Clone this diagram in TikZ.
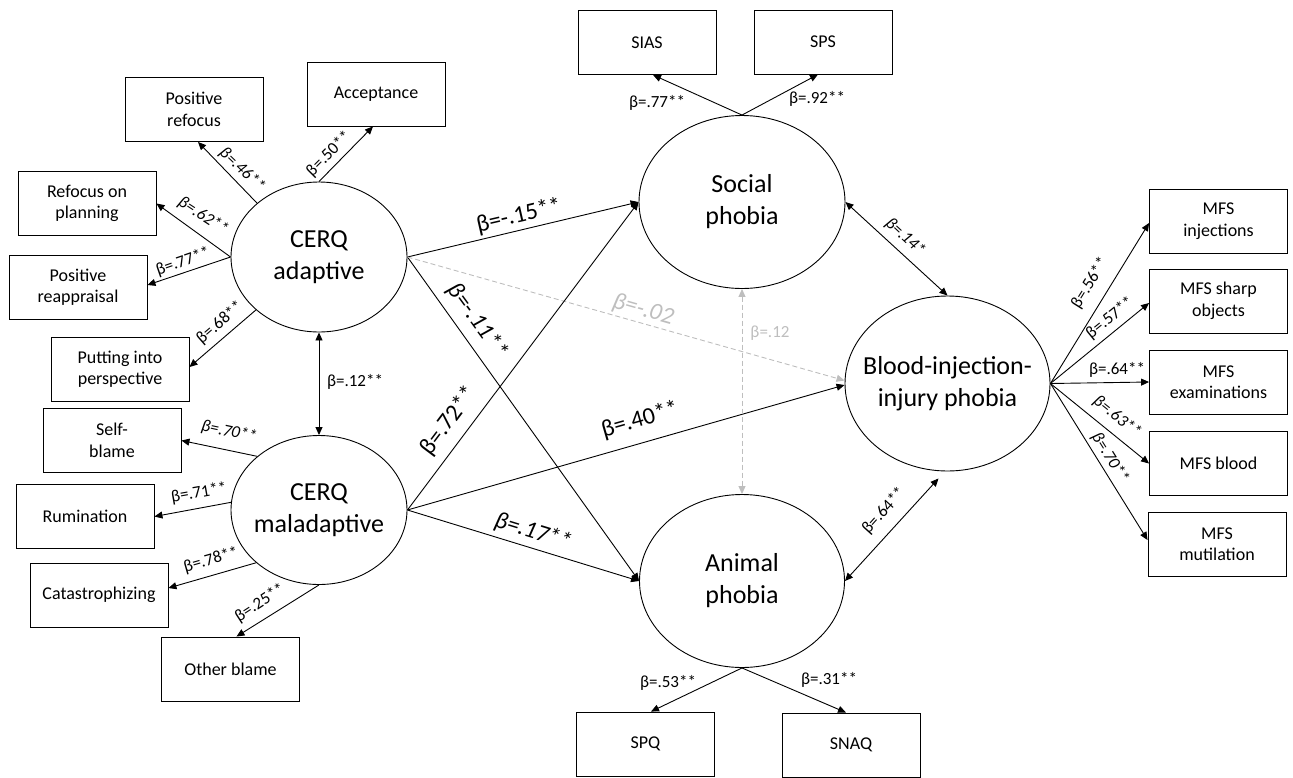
\documentclass[tikz,border=0pt]{standalone}
\usepackage{fontspec}
\setmainfont{Carlito}
\usetikzlibrary{shapes.geometric,arrows.meta}
\definecolor{lgray}{RGB}{190,190,190}
\begin{document}
\begin{tikzpicture}[x=1pt,y=-1pt,
  box/.style={draw,line width=0.9pt,minimum width=138pt,minimum height=64pt,inner sep=0pt,align=center,font=\fontsize{18}{21.5}\selectfont},
  lat/.style={draw,ellipse,line width=0.9pt,inner sep=0pt},
  lattext/.style={inner sep=0pt,align=center,font=\fontsize{26}{32}\selectfont},
  arr/.style={line width=0.9pt,-{Triangle[length=8pt,width=7pt]}},
  darr/.style={line width=0.9pt,{Triangle[length=8pt,width=7pt]}-{Triangle[length=8pt,width=7pt]}},
  garr/.style={line width=0.9pt,lgray,dash pattern=on 5pt off 3pt,-{Triangle[length=8pt,width=7pt]}},
  gdarr/.style={line width=0.9pt,lgray,dash pattern=on 5pt off 3pt,{Triangle[length=8pt,width=7pt]}-{Triangle[length=8pt,width=7pt]}},
  sl/.style={inner sep=0pt,font=\fontsize{17}{20}\selectfont},
  sli/.style={inner sep=0pt,font=\fontsize{17}{20}\selectfont\itshape},
  bl/.style={inner sep=0pt,font=\fontsize{24}{28}\selectfont},
  bli/.style={inner sep=0pt,font=\fontsize{24}{28}\selectfont\itshape}
]
\useasboundingbox (0,0) rectangle (1293,777);

% latent variables
\node[lat,minimum width=176pt,minimum height=150pt] (ad) at (319,257) {};
\node[lattext] (adt) at (ad) {CERQ\\adaptive};
\node[lat,minimum width=176pt,minimum height=149pt] (mal) at (319,510) {};
\node[lattext] (malt) at (mal) {CERQ\\maladaptive};
\node[lat,minimum width=206pt,minimum height=173pt] (soc) at (742,202) {};
\node[lattext] (soct) at (soc) {Social\\phobia};
\node[lat,minimum width=205pt,minimum height=173pt] (ani) at (742,581) {};
\node[lattext] (anit) at (ani) {Animal\\phobia};
\node[lat,minimum width=205pt,minimum height=175pt] (bii) at (947.5,383.5) {};
\node[lattext] (biit) at (bii) {Blood-injection-\\injury phobia};

% indicator boxes
\node[box] (pr) at (194,109.5) {Positive\\refocus};
\node[box] (acc) at (376,94) {Acceptance};
\node[box] (rp) at (87,203.5) {Refocus on\\planning};
\node[box] (pra) at (78,287) {Positive\\reappraisal};
\node[box] (pip) at (120,369) {Putting into\\perspective};
\node[box] (sb) at (112,440.5) {Self-\\blame};
\node[box] (rum) at (85,516.5) {Rumination};
\node[box] (cat) at (99,595) {Catastrophizing};
\node[box] (ob) at (230.5,669) {Other blame};
\node[box] (sias) at (647,42.5) {SIAS};
\node[box] (sps) at (823,42) {SPS};
\node[box] (spq) at (645.5,744) {SPQ};
\node[box] (snaq) at (851,745) {SNAQ};
\node[box] (m1) at (1218.5,221) {MFS\\injections};
\node[box] (m2) at (1218.5,301) {MFS sharp\\objects};
\node[box] (m3) at (1218.5,382) {MFS\\examinations};
\node[box] (m4) at (1218.5,463.5) {MFS blood};
\node[box] (m5) at (1217,544) {MFS\\mutilation};

% connectors: CERQ adaptive
\draw[arr] (ad.139) -- ([xshift=4pt]pr.south);
\draw[arr] (ad.north) -- ([xshift=-3pt]acc.south);
\draw[arr] (ad.west) -- (rp.east);
\draw[arr] (ad.west) -- ([yshift=2pt]pra.east);
\draw[arr] (ad.220) -- ([yshift=2pt]pip.east);
\draw[darr] (ad.south) -- (mal.north);
% CERQ maladaptive
\draw[arr] (mal.139.5) -- (sb.east);
\draw[arr] (mal.175) -- (rum.east);
\draw[arr] (mal.220) -- ([yshift=7pt]cat.east);
\draw[arr] (mal.south) -- ([xshift=6pt]ob.north);
% structural paths
\draw[arr] (ad.east) -- (soc.west);
\draw[arr] (ad.east) -- (ani.west);
\draw[garr] (ad.east) -- ([yshift=3pt]bii.west);
\draw[arr] (mal.east) -- (soc.west);
\draw[arr] (mal.east) -- ([yshift=-1.5pt]bii.west);
\draw[arr] (mal.east) -- (ani.west);
\draw[gdarr] (soc.south) -- (ani.north);
\draw[darr] (soc.east) -- (bii.north);
\draw[darr] (ani.east) -- ([xshift=-9pt,yshift=-7pt]bii.south);
% phobia indicators
\draw[arr] (soc.north) -- ([xshift=6pt]sias.south);
\draw[arr] (soc.north) -- ([xshift=-5pt]sps.south);
\draw[arr] (ani.south) -- ([xshift=5.5pt]spq.north);
\draw[arr] (ani.south) -- ([xshift=-5pt]snaq.north);
\draw[arr] (bii.east) -- ([yshift=-2pt]m1.west);
\draw[arr] (bii.east) -- ([yshift=-2pt]m2.west);
\draw[arr] (bii.east) -- (m3.west);
\draw[arr] (bii.east) -- (m4.west);
\draw[arr] (bii.east) -- ([yshift=4pt]m5.west);

% labels
\node[sli,rotate=-44] (l1) at (242,170) {β=.46**};
\node[sl,rotate=45] (l2) at (329,154) {β=.50**};
\node[sli,rotate=-33] (l3) at (203,216) {β=.62**};
\node[sl,rotate=19] (l4) at (183,262) {β=.77**};
\node[sl,rotate=41] (l5) at (220,323) {β=.68**};
\node[sl] (l6) at (355,382) {β=.12**};
\node[sli,rotate=-12] (l7) at (229,432) {β=.70**};
\node[sl,rotate=10] (l8) at (199,493) {β=.71**};
\node[sl,rotate=16] (l9) at (211,560) {β=.78**};
\node[sl,rotate=33] (l10) at (260,603) {β=.25**};
\node[sl] (l11) at (657,103) {β=.77**};
\node[sl] (l12) at (817,99) {β=.92**};
\node[bl,rotate=13] (l13) at (519,216) {β=-.15**};
\node[bli,rotate=-54] (l14) at (477,321) {β=-.11**};
\node[bli,rotate=-16,text=lgray] (l15) at (643,310) {β=-.02};
\node[sl,text=lgray] (l16) at (770,333) {β=.12};
\node[bl,rotate=53] (l17) at (449,421) {β=.72**};
\node[bl,rotate=16] (l18) at (640,420) {β=.40**};
\node[bli,rotate=-17] (l19) at (533,532) {β=.17**};
\node[sl,rotate=48] (l20) at (884,511) {β=.64**};
\node[sl] (l21) at (668,683) {β=.53**};
\node[sl] (l22) at (829,680) {β=.31**};
\node[sli,rotate=-43] (l23) at (905,237) {β=.14*};
\node[sl,rotate=58] (l24) at (1090,283) {β=.56**};
\node[sl,rotate=39] (l25) at (1110,318) {β=.57**};
\node[sl] (l26) at (1117,370) {β=.64**};
\node[sli,rotate=-39] (l27) at (1117,417) {β=.63**};
\node[sli,rotate=-58] (l28) at (1110,458) {β=.70**};
\end{tikzpicture}
\end{document}
